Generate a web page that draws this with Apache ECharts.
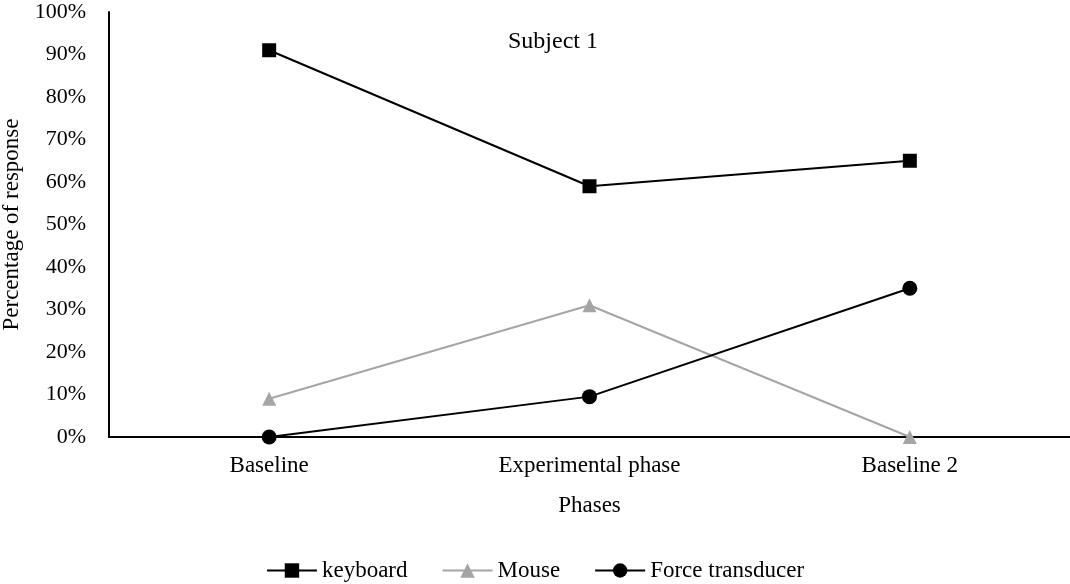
<!DOCTYPE html>
<html>
<head>
<meta charset="utf-8">
<script src="https://cdn.jsdelivr.net/npm/echarts@6/dist/echarts.min.js"></script>
<style>
  html, body { margin: 0; padding: 0; background: #fff; }
  #box { width: 1070px; height: 584px; }
</style>
</head>
<body>
<div id="box"></div>
<script>
var phases = ["Baseline", "Experimental phase", "Baseline 2"];
var keyboard = [91, 59, 65];
var mouse = [9, 31, 0];
var forceTransducer = [0, 9.5, 35];

var chart = echarts.init(document.getElementById("box"));
var font = "Liberation Serif";

var option = {
  backgroundColor: "#fff",
  animation: false,
  title: {
    text: "Subject 1",
    left: 548,
    top: 25,
    textAlign: "center",
    textStyle: { fontFamily: font, fontSize: 24, fontWeight: "normal", color: "#000" }
  },
  legend: {
    top: 554,
    left: "center",
    itemWidth: 50,
    itemHeight: 18,
    itemGap: 34,
    textStyle: { fontFamily: font, fontSize: 23, color: "#000" },
    data: ["keyboard", "Mouse", "Force transducer"]
  },
  grid: { left: 109, right: 0, top: 12, bottom: 147, containLabel: false, outerBoundsMode: "none" },
  xAxis: {
    type: "category",
    data: phases,
    boundaryGap: true,
    name: "Phases",
    nameLocation: "middle",
    nameGap: 57,
    nameTextStyle: { fontFamily: font, fontSize: 23, color: "#000" },
    axisLine: { lineStyle: { color: "#000", width: 2 } },
    axisTick: { show: false },
    axisLabel: { fontFamily: font, fontSize: 23, color: "#000", margin: 17 }
  },
  yAxis: {
    type: "value",
    min: 0,
    max: 100,
    interval: 10,
    name: "Percentage of response",
    nameLocation: "middle",
    nameGap: 86,
    nameTextStyle: { fontFamily: font, fontSize: 23, color: "#000" },
    axisLine: { show: true, lineStyle: { color: "#000", width: 2 } },
    axisTick: { show: false },
    splitLine: { show: false },
    axisLabel: { fontFamily: font, fontSize: 22, color: "#000", margin: 23, formatter: "{value}%" }
  },
  series: [
    {
      name: "keyboard",
      type: "line",
      data: keyboard,
      symbol: "rect",
      symbolSize: 14,
      lineStyle: { color: "#000", width: 2 },
      itemStyle: { color: "#000" }
    },
    {
      name: "Mouse",
      type: "line",
      data: mouse,
      symbol: "triangle",
      symbolSize: 14,
      lineStyle: { color: "#a5a5a5", width: 2 },
      itemStyle: { color: "#a5a5a5" }
    },
    {
      name: "Force transducer",
      type: "line",
      data: forceTransducer,
      symbol: "circle",
      symbolSize: 15,
      lineStyle: { color: "#000", width: 2 },
      itemStyle: { color: "#000" }
    }
  ]
};
chart.setOption(option);
</script>
</body>
</html>
